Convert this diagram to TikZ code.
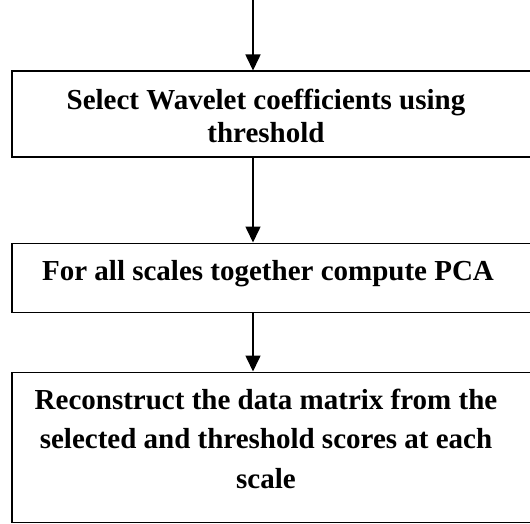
\documentclass[tikz,border=0pt]{standalone}
\usepackage{fontspec}
\setmainfont{Liberation Serif}
\usetikzlibrary{arrows.meta,positioning}
\tikzset{stepbox/.style={draw,line width=1.6pt,minimum width=524pt,anchor=north west,inner sep=0pt},
  steptxt/.style={align=center,anchor=base,inner sep=0pt,font=\fontsize{29}{33}\selectfont\bfseries},
  arr/.style={-{Triangle[length=16pt,width=15pt]},line width=1.6pt}}

\begin{document}
\begin{tikzpicture}[x=1pt,y=1pt]
\useasboundingbox (0,0) rectangle (530,523);
\clip (0,0) rectangle (530,523);
% boxes
\node[stepbox,minimum height=86pt] (sel) at (11,452.5) {};
\node[stepbox,minimum height=69pt] (pca) at (11,280.5) {};
\node[stepbox,minimum height=150pt] (rec) at (11,151.5) {};
% texts (base = last line)
\node[steptxt] (seltxt) at (266,380) {Select Wavelet coefficients using\\threshold};
\node[steptxt] (pcatxt) at (268,243) {For all scales together compute PCA};
\node[steptxt,font=\fontsize{29}{39.5}\selectfont\bfseries] (rectxt) at (266,35) {Reconstruct the data matrix from the\\selected and threshold scores at each\\scale};
% arrows
\coordinate (in) at (253,523);
\draw[arr] (in) -- (in |- sel.north);
\draw[arr] (sel.south -| in) -- (pca.north -| in);
\draw[arr] (pca.south -| in) -- (rec.north -| in);
\end{tikzpicture}
\end{document}
